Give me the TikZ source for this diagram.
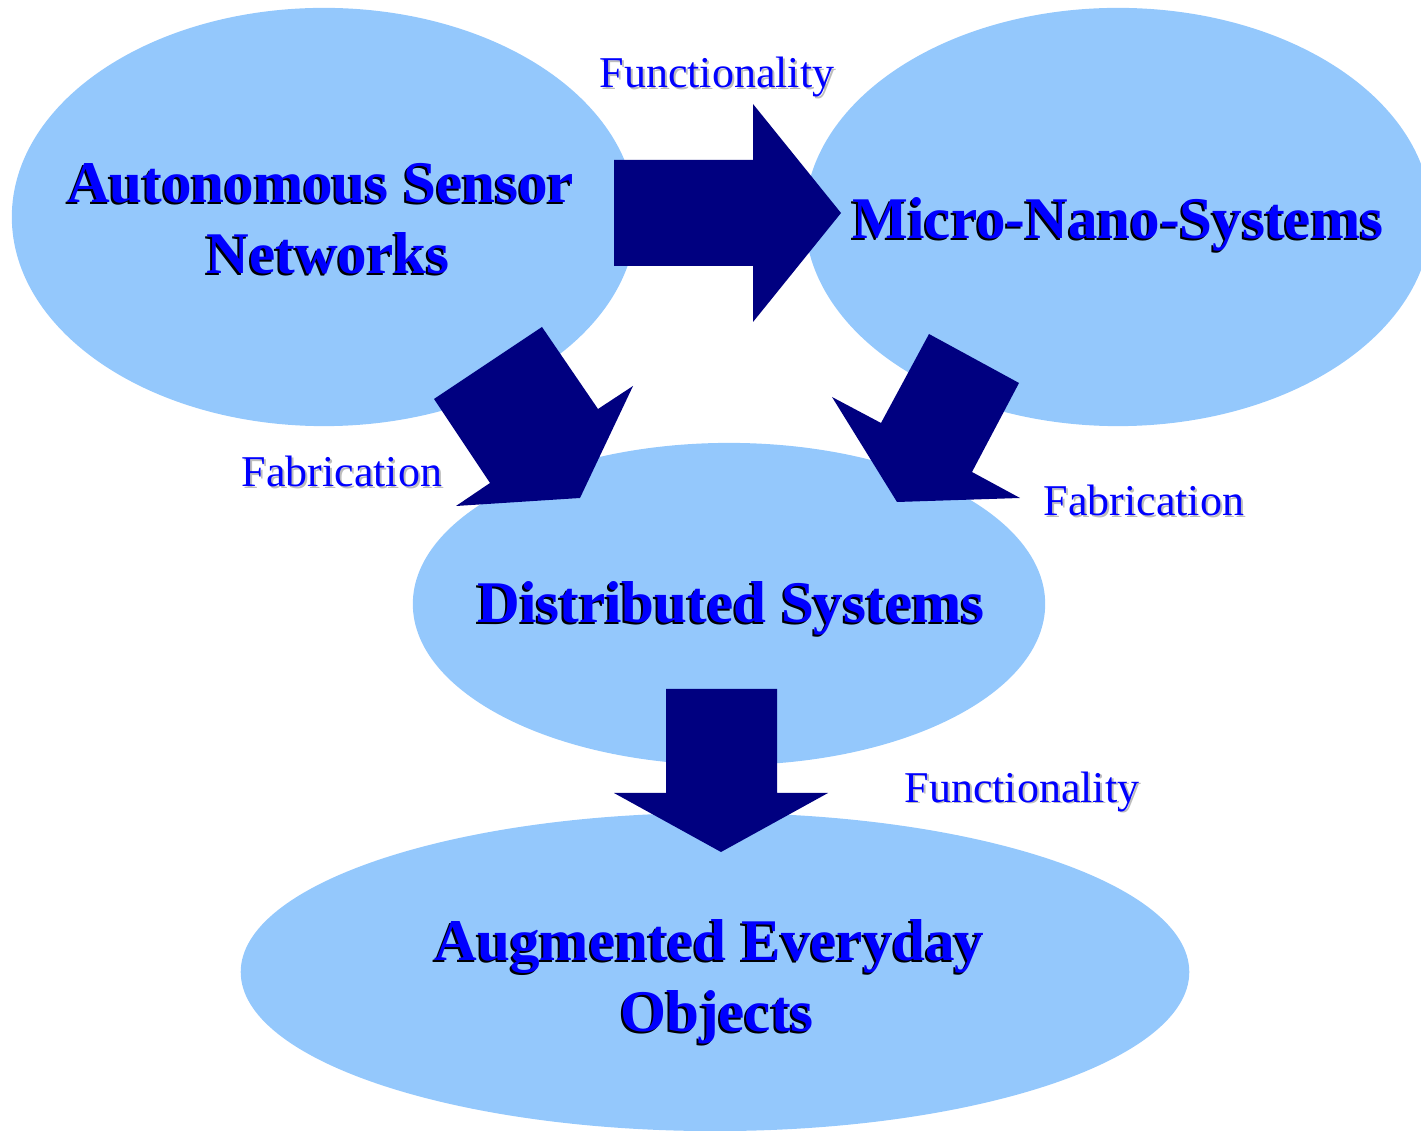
\documentclass[tikz,border=0pt]{standalone}
\usepackage{fontspec}
\setmainfont{Liberation Serif}
\usetikzlibrary{shapes.geometric}
\definecolor{blobblue}{HTML}{94C8FC}
\definecolor{arrownavy}{HTML}{000080}
\definecolor{textblue}{HTML}{0000FF}
\definecolor{shadegrey}{HTML}{BDBDBD}

\begin{document}
\begin{tikzpicture}[
  x=0.01cm, y=-0.01cm,
  blob/.style={ellipse, fill=blobblue, inner sep=0pt},
  bigarrow/.style={fill=arrownavy},
  heading/.style={font=\fontsize{16.8}{20.3}\selectfont\bfseries, align=center,
    text=textblue, inner sep=0pt},
  headshade/.style={heading, text=black},
  flowlabel/.style={font=\fontsize{12.5}{14}\selectfont, text=textblue,
    anchor=base, inner sep=0pt},
  flowshade/.style={flowlabel, text=shadegrey}
]
\useasboundingbox (0,0) rectangle (1421,1131);

% the four ellipses
\node[blob, minimum width=6.24cm, minimum height=4.18cm] (asn) at (324,217) {};
\node[blob, minimum width=6.26cm, minimum height=4.18cm] (mns) at (1118,217) {};
\node[blob, minimum width=6.32cm, minimum height=3.22cm] (dis) at (729,604) {};
\node[blob, minimum width=9.48cm, minimum height=3.18cm] (aeo) at (715,972) {};

% block arrows
\fill[bigarrow] (614,160) -- (753,160) -- (753,104) -- (841,213) -- (753,322) -- (753,266) -- (614,266) -- cycle;
\fill[bigarrow] (542,327) -- (598,409) -- (633,386) -- (580,498) -- (456,506) -- (490,483) -- (434,399) -- cycle;
\fill[bigarrow] (929,334) -- (1019,383) -- (972,472) -- (1020,498) -- (897,502) -- (832,397) -- (881,423) -- cycle;
\fill[bigarrow] (666,689) -- (777,689) -- (777,793) -- (828,793) -- (721,852) -- (614,793) -- (666,793) -- cycle;

% titles with shadow
\node[headshade] at ([shift={(2,4)}]asn.center) {Autonomous Sensor\hspace*{0.25em}\\Networks};
\node[heading] (asntext) at ([shift={(4,2)}]asn.center) {Autonomous Sensor\hspace*{0.25em}\\Networks};
\node[headshade, anchor=base] at ([shift={(-2,24)}]mns.center) {Micro-Nano-Systems};
\node[heading, anchor=base] (mnstext) at ([shift={(0,22)}]mns.center) {Micro-Nano-Systems};
\node[headshade, anchor=base] at ([shift={(0,21)}]dis.center) {Distributed Systems};
\node[heading, anchor=base] (distext) at ([shift={(2,19)}]dis.center) {Distributed Systems};
\node[headshade] at ([shift={(0,12)}]aeo.center) {Augmented Everyday\hspace*{0.25em}\\Objects};
\node[heading] (aeotext) at ([shift={(2,10)}]aeo.center) {Augmented Everyday\hspace*{0.25em}\\Objects};

% arrow labels
\foreach \name/\px/\py/\txt in {funtop/717/88/Functionality, fableft/342/487/Fabrication,
    fabright/1144/516/Fabrication, funbot/1022/802/Functionality} {
  \node[flowshade] at (\px+2,\py+2) {\txt};
  \node[flowlabel] (\name) at (\px,\py) {\txt};
}
\end{tikzpicture}
\end{document}
